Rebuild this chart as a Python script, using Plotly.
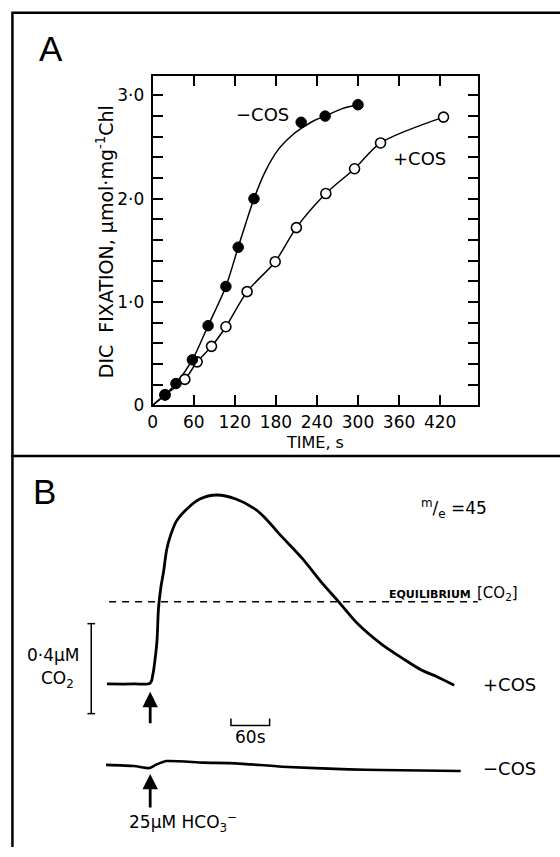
import plotly.graph_objects as go

# ---------------- Panel A data (time s, DIC fixation umol/mg Chl) ----------------
neg_t = [18, 34, 58, 81, 107, 125, 148, 217, 252, 300]
neg_v = [0.10, 0.21, 0.44, 0.77, 1.15, 1.53, 2.00, 2.74, 2.80, 2.91]
pos_t = [18, 47, 65, 86, 107, 138, 179, 210, 253, 295, 333, 425]
pos_v = [0.10, 0.25, 0.42, 0.57, 0.76, 1.10, 1.39, 1.72, 2.05, 2.29, 2.54, 2.79]
# hand-drawn fitted curves
neg_fit_t = [0, 18, 34, 58, 81, 107, 125, 148, 165, 184, 203, 217, 237, 252, 276, 300]
neg_fit_v = [0, 0.10, 0.21, 0.44, 0.77, 1.15, 1.53, 2.00, 2.27, 2.48, 2.61, 2.68, 2.76, 2.80, 2.87, 2.91]
pos_fit_t = [0, 18, 47, 65, 86, 107, 138, 179, 210, 253, 295, 333, 425]
pos_fit_v = [0, 0.10, 0.25, 0.42, 0.57, 0.76, 1.10, 1.39, 1.72, 2.05, 2.29, 2.54, 2.79]

x_tickvals = [0, 60, 120, 180, 240, 300, 360, 420]
x_ticktext = ["0", "60", "120", "180", "240", "300", "360", "420"]
y_tickvals = [0, 1, 2, 3]
y_ticktext = ["0", "1·0", "2·0", "3·0"]

# ---------------- Panel B data (time s relative to HCO3- addition, CO2 uM relative) ----------------
bp_t = [-67, -25, 0, 4, 8, 10.5, 13, 16.6, 20.8, 25.8, 31, 41, 57, 77, 103, 133, 164, 182, 200,
        236, 267, 293, 323, 359, 390, 421, 446, 472]
bp_c = [0, 0, 0.004, 0.04, 0.12, 0.19, 0.34, 0.43, 0.50, 0.60, 0.655, 0.725, 0.778, 0.822,
        0.840, 0.822, 0.775, 0.727, 0.668, 0.558, 0.448, 0.364, 0.265, 0.177, 0.117, 0.062, 0.031, -0.006]
bm_t = [-68.5, -25, -1, 8.5, 25, 82, 133, 205, 308, 359, 482]
bm_c = [-0.360, -0.365, -0.374, -0.360, -0.343, -0.350, -0.353, -0.368, -0.380, -0.383, -0.387]
equilibrium_c = 0.365

FONT = "DejaVu Sans"
W, H = 560, 857

fig = go.Figure()

# Panel A curves
fig.add_trace(go.Scatter(x=neg_fit_t, y=neg_fit_v, mode="lines", line=dict(color="black", width=1.5, shape="spline", smoothing=0.8),
                         xaxis="x", yaxis="y", hoverinfo="skip"))
fig.add_trace(go.Scatter(x=pos_fit_t, y=pos_fit_v, mode="lines", line=dict(color="black", width=1.5, shape="spline", smoothing=0.8),
                         xaxis="x", yaxis="y", hoverinfo="skip"))
fig.add_trace(go.Scatter(x=pos_t, y=pos_v, mode="markers",
                         marker=dict(size=10, color="white", line=dict(color="black", width=1.6)),
                         xaxis="x", yaxis="y"))
fig.add_trace(go.Scatter(x=neg_t, y=neg_v, mode="markers",
                         marker=dict(size=10.5, color="black", line=dict(color="black", width=1)),
                         xaxis="x", yaxis="y"))

# Panel B traces
fig.add_trace(go.Scatter(x=bp_t, y=bp_c, mode="lines", line=dict(color="black", width=2.8, shape="spline", smoothing=1.0),
                         xaxis="x2", yaxis="y2", hoverinfo="skip"))
fig.add_trace(go.Scatter(x=bm_t, y=bm_c, mode="lines", line=dict(color="black", width=2.6, shape="spline", smoothing=0.6),
                         xaxis="x2", yaxis="y2", hoverinfo="skip"))

axis_common = dict(showline=True, linewidth=2, linecolor="black", mirror="ticks",
                   ticks="inside", ticklen=10, tickwidth=1.5, tickcolor="black",
                   showgrid=False, zeroline=False,
                   tickfont=dict(family=FONT, size=17, color="black"))

fig.update_layout(
    width=W, height=H,
    margin=dict(l=0, r=0, t=0, b=0),
    paper_bgcolor="white", plot_bgcolor="white",
    showlegend=False,
    font=dict(family=FONT, color="black"),
    xaxis=dict(domain=[149 / W, 477 / W], range=[0, 475], anchor="y",
               tickmode="array", tickvals=x_tickvals, ticktext=x_ticktext, **axis_common),
    yaxis=dict(domain=[1 - 410 / H, 1 - 76.7 / H], range=[0, 3.19], anchor="x",
               tickmode="array", tickvals=y_tickvals, ticktext=y_ticktext, ticklabelstandoff=3,
               minor=dict(dtick=0.2, tick0=0, ticks="inside", ticklen=10, tickwidth=1.5, tickcolor="black"),
               **axis_common),
    xaxis2=dict(domain=[0, 1], range=[-225.4, 636.2], anchor="y2", visible=False),
    yaxis2=dict(domain=[0, 1 - 461.7 / H], range=[-0.725, 1.012], anchor="x2", visible=False),
)

shapes = []
# outer frame (paper coords)
fl = dict(color="black", width=2.5)
shapes.append(dict(type="line", xref="paper", yref="paper", x0=7.5 / W, x1=7.5 / W, y0=0, y1=1 - 12.5 / H, line=fl))
shapes.append(dict(type="line", xref="paper", yref="paper", x0=6.5 / W, x1=1.0, y0=1 - 13 / H, y1=1 - 13 / H, line=fl))
shapes.append(dict(type="line", xref="paper", yref="paper", x0=6.5 / W, x1=1.0, y0=1 - 461.5 / H, y1=1 - 461.5 / H, line=fl))
# equilibrium dashed line
shapes.append(dict(type="line", xref="x2", yref="y2", x0=-63.8, x1=508.5, y0=equilibrium_c, y1=equilibrium_c,
                   line=dict(color="black", width=1.5, dash="7px,6px")))
# 0.4 uM scale bar
shapes.append(dict(type="line", xref="x2", yref="y2", x0=-91.5, x1=-91.5, y0=-0.132, y1=0.268, line=dict(color="black", width=1.5)))
shapes.append(dict(type="line", xref="x2", yref="y2", x0=-97.5, x1=-85.5, y0=0.268, y1=0.268, line=dict(color="black", width=1.5)))
shapes.append(dict(type="line", xref="x2", yref="y2", x0=-97.5, x1=-85.5, y0=-0.132, y1=-0.132, line=dict(color="black", width=1.5)))
# 60 s scale bar
shapes.append(dict(type="path", xref="x2", yref="y2",
                   path="M125.4,-0.154 L125.4,-0.185 L185.4,-0.185 L185.4,-0.154",
                   line=dict(color="black", width=1.5)))
fig.update_layout(shapes=shapes)


def label(text, x, y, size, xref="x2", yref="y2", xanchor="center", family=FONT, **kw):
    return dict(text=text, xref=xref, yref=yref, x=x, y=y, showarrow=False,
                xanchor=xanchor, yanchor="middle",
                font=dict(family=family, size=size, color="black"), **kw)


ann = []
ann.append(label("A", 46 / W, 1 - 49.5 / H, 35, xref="paper", yref="paper", family="Liberation Sans"))
ann.append(label("B", 40 / W, 1 - 497 / H, 35, xref="paper", yref="paper", family="Liberation Sans"))
ann.append(label("DIC  FIXATION, µmol·mg<sup>-1</sup>Chl", 101 / W, 1 - 245 / H, 19,
                 xref="paper", yref="paper", textangle=-90))
ann.append(label("TIME, s", 313 / W, 1 - 448 / H, 16, xref="paper", yref="paper"))
ann.append(label("−COS", 160.8, 2.82, 18, xref="x", yref="y"))
ann.append(label("+COS", 390, 2.39, 18, xref="x", yref="y"))
# panel B labels
ann.append(label("0·4µM", -150.8, 0.127, 17))
ann.append(label("CO<sub>2</sub>", -144.6, 0.018, 17))
ann.append(label("60s", 156, -0.237, 17))
ann.append(label("25µM HCO<sub>3</sub><sup>−</sup>", 51.5, -0.615, 17))
ann.append(label("+COS", 513, -0.004, 18, xanchor="left"))
ann.append(label("−COS", 513, -0.374, 18, xanchor="left"))
ann.append(label("<sup>m</sup>/<sub>e</sub> =45", 471, 0.778, 17))
ann.append(label("<b>EQUILIBRIUM</b>", 368, 0.396, 11, xanchor="left"))
ann.append(label("[CO<sub>2</sub>]", 504, 0.40, 15, xanchor="left"))
# arrows (HCO3- addition)
for tip_c, tail in [(-0.035, 33), (-0.400, 35)]:
    ann.append(dict(text="", xref="x2", yref="y2", x=0, y=tip_c, ax=0, ay=tail, showarrow=True,
                    arrowhead=2, arrowsize=1.1, arrowwidth=2.8, arrowcolor="black", standoff=0))
fig.update_layout(annotations=ann)

fig.write_html("out.html", config={"displayModeBar": False},
               post_script="document.body.style.margin='0';document.body.style.padding='0';")
